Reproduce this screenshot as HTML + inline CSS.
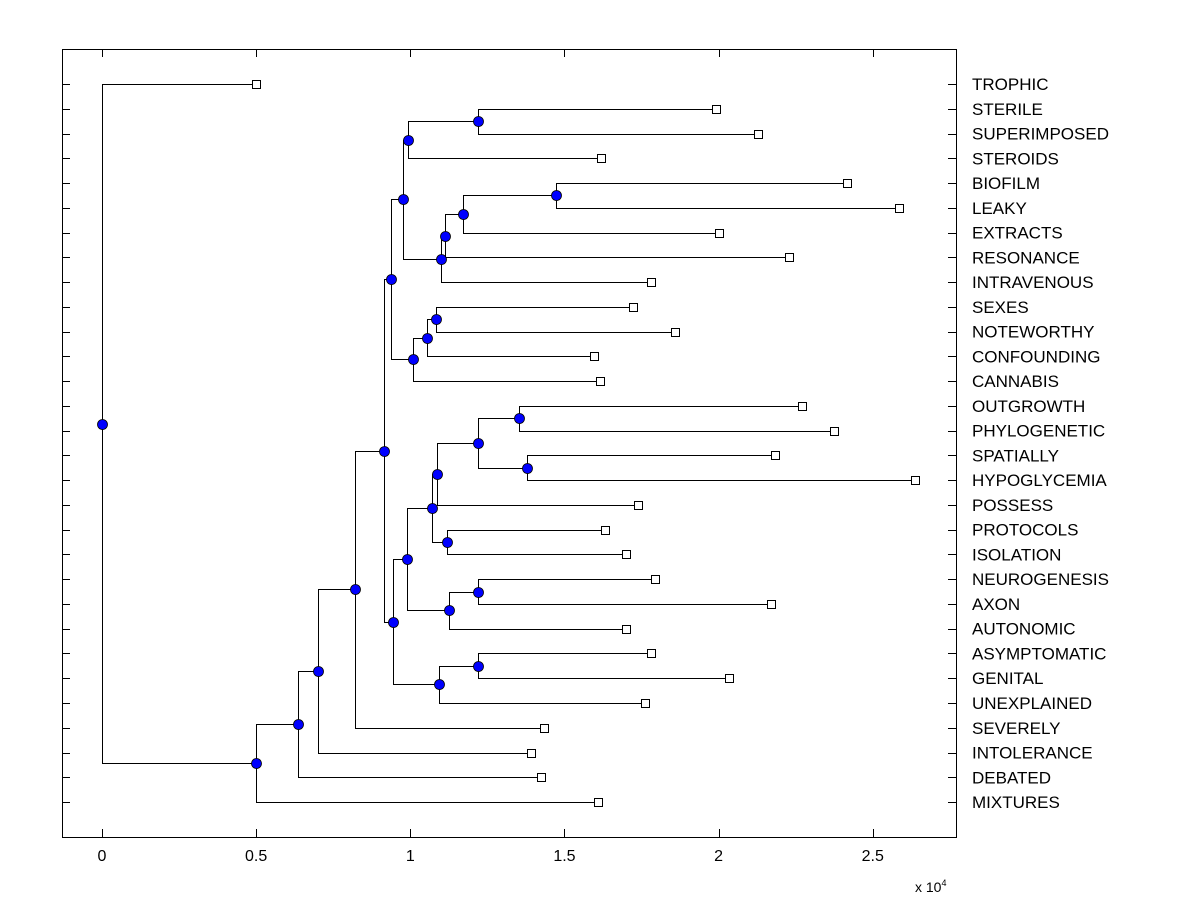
<!DOCTYPE html>
<html><head><meta charset="utf-8"><style>
body{margin:0;background:#fff;}
svg{display:block;font-family:"Liberation Sans",Arial,sans-serif;}
</style></head><body>
<svg id="chart" width="1200" height="900" viewBox="0 0 1200 900" xmlns="http://www.w3.org/2000/svg">
<rect x="0" y="0" width="1200" height="900" fill="#fff"/>
<rect x="62.5" y="49.5" width="894" height="788" fill="none" stroke="#000" stroke-width="1"/>
<g id="ticks"></g>
<g id="tree"></g>
<g id="marks"></g>
<g id="labels"></g>
<text x="915" y="892" font-size="14">x 10<tspan font-size="9" dy="-6">4</tspan></text>
</svg>
<script>
const leafNames=["TROPHIC","STERILE","SUPERIMPOSED","STEROIDS","BIOFILM","LEAKY","EXTRACTS","RESONANCE","INTRAVENOUS","SEXES","NOTEWORTHY","CONFOUNDING","CANNABIS","OUTGROWTH","PHYLOGENETIC","SPATIALLY","HYPOGLYCEMIA","POSSESS","PROTOCOLS","ISOLATION","NEUROGENESIS","AXON","AUTONOMIC","ASYMPTOMATIC","GENITAL","UNEXPLAINED","SEVERELY","INTOLERANCE","DEBATED","MIXTURES"];
const leafValues=[0.5,1.99,2.127,1.618,2.416,2.585,2.001,2.228,1.781,1.722,1.858,1.596,1.615,2.27,2.374,2.183,2.637,1.738,1.631,1.7,1.794,2.17,1.70,1.781,2.034,1.761,1.434,1.391,1.424,1.609];
const nodeNames=["N0","N1","N2","N3","N4","N5","N6","N8","N10","N12","N11","N13","N14","N15","N9","N16","N17","N7","N18","N20","N22","N24","N25","N26","N23","N21","N27","N19","N28"];
const nodeValues=[0,0.5,0.636,0.70,0.821,0.915,0.937,0.976,0.993,1.22,1.10,1.112,1.171,1.473,1.01,1.054,1.083,0.944,0.989,1.07,1.087,1.22,1.353,1.379,1.119,1.125,1.22,1.093,1.22];
const nodeChildA=["L0","N2","N3","N4","N5","N6","N8","N10","N12","L1","N13","N14","N15","L4","N16","N17","L9","N18","N20","N22","N24","N25","L13","L15","L18","N27","L20","N28","L23"];
const nodeChildB=["N1","L29","L28","L27","L26","N7","N9","N11","L3","L2","L8","L7","L6","L5","L12","L11","L10","N19","N21","N23","L17","N26","L14","L16","L19","L22","L21","L25","L24"];
const xTicks=[0,0.5,1,1.5,2,2.5];
const xTickLabels=["0","0.5","1","1.5","2","2.5"];

const NS="http://www.w3.org/2000/svg";
const X0=102,XS=308.3,Y0=84,YS=24.76;
const sx=v=>X0+v*XS, sy=i=>Y0+i*YS;
function mk(p,tag,at){const e=document.createElementNS(NS,tag);for(const k in at)e.setAttribute(k,at[k]);p.appendChild(e);return e;}
const gT=document.getElementById('ticks'),gTree=document.getElementById('tree'),gM=document.getElementById('marks'),gL=document.getElementById('labels');

xTicks.forEach((t,i)=>{
  const x=Math.round(sx(t))+0.5;
  let a=mk(gT,'line',{x1:x,x2:x,y1:837,y2:829,stroke:'#000'});
  
  
  let b=mk(gT,'line',{x1:x,x2:x,y1:49,y2:57,stroke:'#000'});
  
  
  let l=mk(gT,'text',{x:sx(t),y:861,'font-size':16,'text-anchor':'middle'});
  l.textContent=xTickLabels[i];
  
  
});
leafNames.forEach((n,i)=>{
  const y=Math.round(sy(i))+0.5;
  let a=mk(gT,'line',{x1:62,x2:70,y1:y,y2:y,stroke:'#000'});
  
  
  let b=mk(gT,'line',{x1:948,x2:956,y1:y,y2:y,stroke:'#000'});
  
  
  let t=mk(gL,'text',{x:972,y:sy(i)+6,'font-size':17});
  t.textContent=n;
  
  
});

const pos={};
leafNames.forEach((n,i)=>{pos['L'+i]={x:sx(leafValues[i]),y:sy(i)};});
function getPos(id){
  if(pos[id])return pos[id];
  const k=nodeNames.indexOf(id);
  const a=getPos(nodeChildA[k]),b=getPos(nodeChildB[k]);
  pos[id]={x:sx(nodeValues[k]),y:(a.y+b.y)/2,a,b};
  return pos[id];
}
nodeNames.forEach(id=>{
  const p=getPos(id);
  const x=Math.round(p.x)+0.5;
  const ya=Math.round(p.a.y)+0.5,yb=Math.round(p.b.y)+0.5;
  let path=mk(gTree,'path',{d:`M${Math.round(p.a.x)} ${ya}H${x}V${yb}H${Math.round(p.b.x)}`,fill:'none',stroke:'#000','stroke-width':1});
  
  
});
leafNames.forEach((n,i)=>{
  const p=pos['L'+i];
  let r=mk(gM,'rect',{x:Math.round(p.x)-3.5,y:Math.round(p.y)-3.5,width:8,height:8,fill:'#fff',stroke:'#000'});
  
  
});
nodeNames.forEach(id=>{
  const p=pos[id];
  let c=mk(gM,'circle',{cx:Math.round(p.x)+0.5,cy:Math.round(p.y)+0.5,r:5,fill:'#0000ff',stroke:'#000','stroke-width':0.8});
  
  
});
</script>
</body></html>
